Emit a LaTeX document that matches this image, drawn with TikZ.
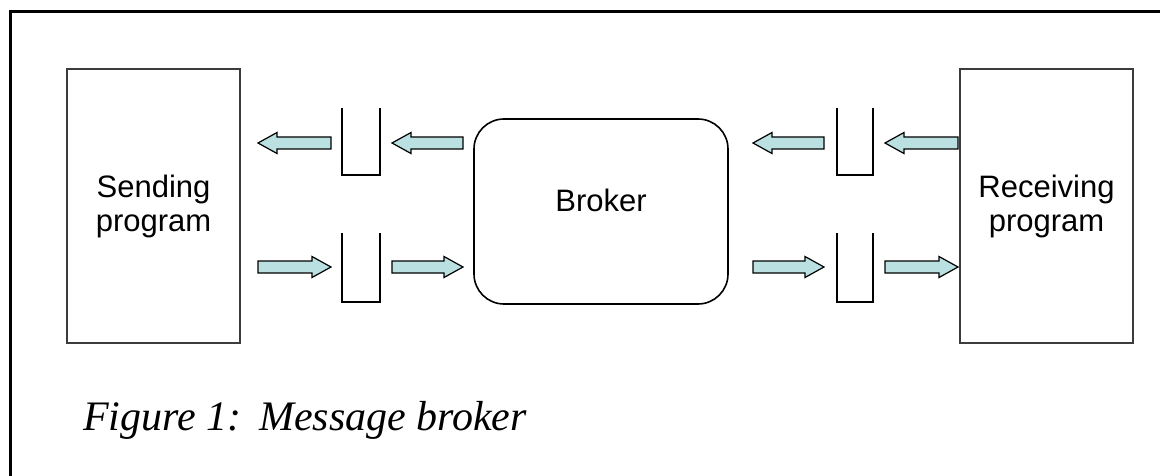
\documentclass[tikz,border=0pt]{standalone}
\usepackage{fontspec}
\setmainfont{Liberation Sans}
\newfontfamily\capfont{Liberation Serif}
\definecolor{arrowfill}{RGB}{186,224,226}
\definecolor{boxline}{RGB}{60,60,60}
\newcommand\barr[3]{% #1 tail x, #2 tip x, #3 y
  \pgfmathsetmacro\dir{sign(#2-#1)}%
  \draw[barrow] (#1,#3-6) -- ({#2-\dir*19},#3-6) -- ({#2-\dir*19},#3-10.5) -- (#2,#3)
     -- ({#2-\dir*19},#3+10.5) -- ({#2-\dir*19},#3+6) -- (#1,#3+6) -- cycle;}
\begin{document}
\begin{tikzpicture}[x=1pt,y=-1pt,
  prog/.style={draw=boxline,line width=2pt,minimum width=173pt,minimum height=274pt,inner sep=0pt,
     align=center,font=\fontsize{31}{34}\selectfont},
  brokerbox/.style={draw=black,line width=1.6pt,rounded corners=30pt,minimum width=254pt,minimum height=185pt,inner sep=0pt},
  lbl/.style={font=\fontsize{31}{35}\selectfont},
  queue/.style={draw=black,line width=1.6pt},
  barrow/.style={draw=black,fill=arrowfill,line width=1.2pt,line join=miter},
  frame/.style={draw=black,line width=3pt}]
\useasboundingbox (0,0) rectangle (1160,476);
\draw[frame] (10,476) -- (10,12) -- (1160,12);
% program boxes
\node[prog] (send) at (153.5,206) {Sending\\program};
\node[prog] (recv) at (1046.5,206) {Receiving\\program};
% broker
\node[brokerbox] (broker) at (601,211.5) {};
\node[lbl] (brokerlbl) at (601,200) {Broker};
% queues
\draw[queue] (342,108) -- (342,175) -- (380,175) -- (380,108);
\draw[queue] (342,233) -- (342,302) -- (380,302) -- (380,233);
\draw[queue] (837,108) -- (837,175) -- (873,175) -- (873,108);
\draw[queue] (837,233) -- (837,302) -- (873,302) -- (873,233);
% block arrows, upper row (leftward)
\barr{331}{258}{143}
\barr{463}{392}{143}
\barr{824}{753}{143}
\barr{958}{885}{143}
% lower row (rightward)
\barr{258}{331}{267}
\barr{392}{463}{267}
\barr{753}{824}{267}
\barr{885}{958}{267}
% caption
\node[anchor=base west,inner sep=0pt,font=\capfont\itshape\fontsize{42}{46}\selectfont] (cap) at (83,430) {Figure 1:\hspace{0.42em}Message broker};
\end{tikzpicture}
\end{document}
